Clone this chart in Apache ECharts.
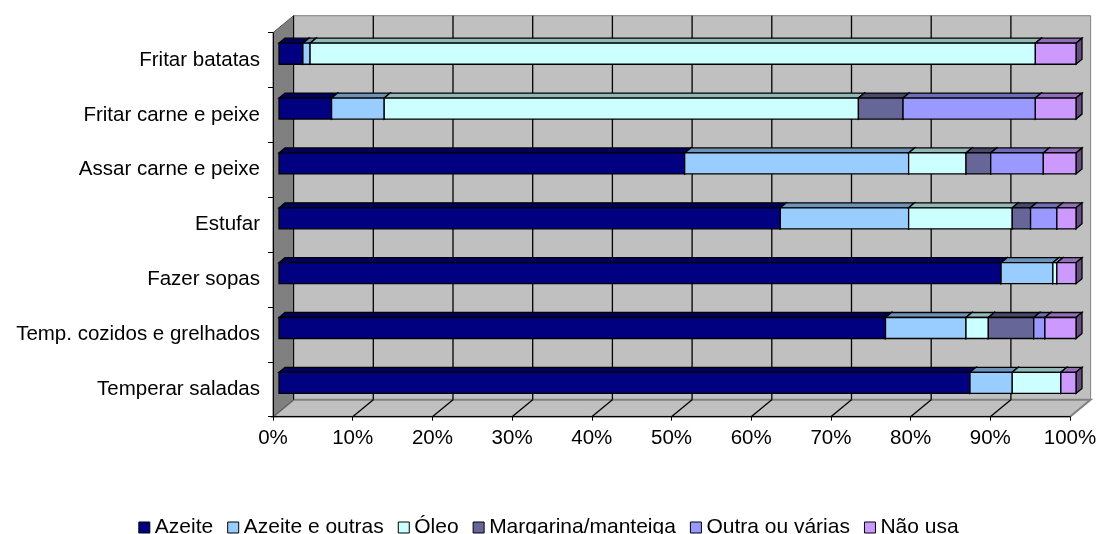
<!DOCTYPE html>
<html>
<head>
<meta charset="utf-8">
<script src="https://cdn.jsdelivr.net/npm/echarts@6/dist/echarts.min.js"></script>
<style>
  html, body { margin: 0; padding: 0; background: #fff; }
  #chartItem { width: 1097px; height: 534px; }
</style>
</head>
<body>
<div id="chartItem"></div>
<script>
// 数据
var categories = ['Fritar batatas', 'Fritar carne e peixe', 'Assar carne e peixe', 'Estufar',
  'Fazer sopas', 'Temp. cozidos e grelhados', 'Temperar saladas'];
var seriesNames = ['Azeite', 'Azeite e outras', 'Óleo', 'Margarina/manteiga', 'Outra ou várias', 'Não usa'];
var azeite = [3.0, 6.6, 50.9, 62.9, 90.6, 76.1, 86.7];
var azeiteOutras = [0.9, 6.6, 28.1, 16.1, 6.5, 10.1, 5.3];
var oleo = [91.0, 59.5, 7.2, 13.0, 0.5, 2.8, 6.1];
var margarina = [0, 5.6, 3.1, 2.3, 0, 5.7, 0];
var outra = [0, 16.6, 6.6, 3.3, 0, 1.4, 0];
var naoUsa = [5.1, 5.1, 4.1, 2.4, 2.4, 3.9, 1.9];
var xTicks = [0, 10, 20, 30, 40, 50, 60, 70, 80, 90, 100];

var colors = ['#000080', '#99ccff', '#ccffff', '#666699', '#9999ff', '#cc99ff'];
var font = 'Arial, "Liberation Sans", sans-serif';

// 3D 效果参数
var WALL_DX = 20.6, WALL_DY = 17;   // 背墙深度
var BAR_DX = 6, BAR_DY = 6.4;       // 柱子离前平面的偏移
var BAR_DEPTH_X = 6, BAR_DEPTH_Y = 5;
var BAR_RATIO = 0.383;

function shade(hex, k) {
  var n = parseInt(hex.slice(1), 16);
  var r = Math.round(((n >> 16) & 255) * k);
  var g = Math.round(((n >> 8) & 255) * k);
  var b = Math.round((n & 255) * k);
  return 'rgb(' + r + ',' + g + ',' + b + ')';
}

// 累加成 [起点, 终点, 类别]
var allValues = [azeite, azeiteOutras, oleo, margarina, outra, naoUsa];
var acc = categories.map(function () { return 0; });
var stacked = allValues.map(function (arr) {
  return arr.map(function (v, i) {
    var s = acc[i];
    acc[i] += v;
    return [s, acc[i], i];
  });
});

function renderBar(params, api) {
  var start = api.value(0), end = api.value(1), cat = api.value(2);
  if (end - start <= 0) return;
  var p0 = api.coord([start, cat]);
  var p1 = api.coord([end, cat]);
  var h = api.size([0, 1])[1] * BAR_RATIO;
  var x0 = p0[0] + BAR_DX, x1 = p1[0] + BAR_DX;
  var y0 = p0[1] - BAR_DY - h / 2, y1 = y0 + h;
  var c = api.visual('color');
  var dx = BAR_DEPTH_X, dy = BAR_DEPTH_Y;
  var line = { stroke: '#000', lineWidth: 1.3 };
  return {
    type: 'group',
    children: [{
      type: 'polygon',
      shape: { points: [[x0, y0], [x1, y0], [x1 + dx, y0 - dy], [x0 + dx, y0 - dy]] },
      style: Object.assign({ fill: shade(c, 0.72) }, line)
    }, {
      type: 'polygon',
      shape: { points: [[x1, y0], [x1 + dx, y0 - dy], [x1 + dx, y1 - dy], [x1, y1]] },
      style: Object.assign({ fill: shade(c, 0.5) }, line)
    }, {
      type: 'rect',
      shape: { x: x0, y: y0, width: x1 - x0, height: h },
      style: Object.assign({ fill: c }, line)
    }]
  };
}

// 背墙、左墙、底面
function renderFrame(params, api) {
  var cs = params.coordSys;
  var left = cs.x, top = cs.y, right = cs.x + cs.width, bottom = cs.y + cs.height;
  var children = [];
  children.push({
    type: 'polygon',
    shape: { points: [[left + WALL_DX, top - WALL_DY], [right + WALL_DX, top - WALL_DY],
      [right + WALL_DX, bottom - WALL_DY], [left + WALL_DX, bottom - WALL_DY]] },
    style: { fill: '#c0c0c0', stroke: '#808080', lineWidth: 1 }
  });
  children.push({
    type: 'polygon',
    shape: { points: [[left, bottom], [right, bottom], [right + WALL_DX, bottom - WALL_DY], [left + WALL_DX, bottom - WALL_DY]] },
    style: { fill: '#c0c0c0', stroke: '#808080', lineWidth: 2 }
  });
  children.push({
    type: 'polygon',
    shape: { points: [[left, top], [left + WALL_DX, top - WALL_DY], [left + WALL_DX, bottom - WALL_DY], [left, bottom]] },
    style: { fill: '#808080', stroke: '#555', lineWidth: 1 }
  });
  xTicks.forEach(function (v) {
    if (v === 0 || v === 100) return;
    var x = api.coord([v, 0])[0];
    children.push({
      type: 'line',
      shape: { x1: x + WALL_DX, y1: top - WALL_DY, x2: x + WALL_DX, y2: bottom - WALL_DY },
      style: { stroke: '#000', lineWidth: 1.3 }
    });
    children.push({
      type: 'line',
      shape: { x1: x, y1: bottom, x2: x + WALL_DX, y2: bottom - WALL_DY },
      style: { stroke: '#000', lineWidth: 1.3 }
    });
  });
  children.push({
    type: 'line',
    shape: { x1: left + WALL_DX, y1: top - WALL_DY, x2: left + WALL_DX, y2: bottom - WALL_DY },
    style: { stroke: '#000', lineWidth: 1 }
  });
  return { type: 'group', children: children };
}

var series = [{
  name: 'frame',
  type: 'custom',
  silent: true,
  z: 1,
  renderItem: renderFrame,
  encode: { x: 0, y: 1 },
  data: [[0, 0]]
}];
seriesNames.forEach(function (name, k) {
  series.push({
    name: name,
    type: 'custom',
    z: 3,
    itemStyle: { color: colors[k] },
    renderItem: renderBar,
    encode: { x: [0, 1], y: 2 },
    data: stacked[k]
  });
});

var option = {
  backgroundColor: '#fff',
  animation: false,
  color: colors,
  textStyle: { fontFamily: font },
  grid: {
    left: 273, top: 32.7, width: 797, height: 384,
    outerBoundsMode: 'none'
  },
  legend: {
    data: seriesNames,
    left: 'center',
    top: 512,
    icon: 'rect',
    itemWidth: 11,
    itemHeight: 11,
    itemGap: 14,
    itemStyle: { borderColor: '#000', borderWidth: 1 },
    textStyle: { fontSize: 21, color: '#000', fontFamily: font }
  },
  xAxis: {
    type: 'value',
    min: 0, max: 100, interval: 10,
    z: 10,
    axisLine: { show: true, lineStyle: { color: '#000', width: 1 } },
    axisTick: { show: true, length: 4, lineStyle: { color: '#000' } },
    splitLine: { show: false },
    axisLabel: { formatter: '{value}%', fontSize: 20.5, color: '#000', margin: 11, fontFamily: font }
  },
  yAxis: {
    type: 'category',
    inverse: true,
    data: categories,
    z: 10,
    axisLine: { show: true, lineStyle: { color: '#000', width: 1 } },
    axisTick: { show: true, length: 5, lineStyle: { color: '#000' } },
    axisLabel: { fontSize: 20.5, color: '#000', margin: 13, fontFamily: font }
  },
  series: series
};

var chart = echarts.init(document.getElementById('chartItem'));
chart.setOption(option);
</script>
</body>
</html>
